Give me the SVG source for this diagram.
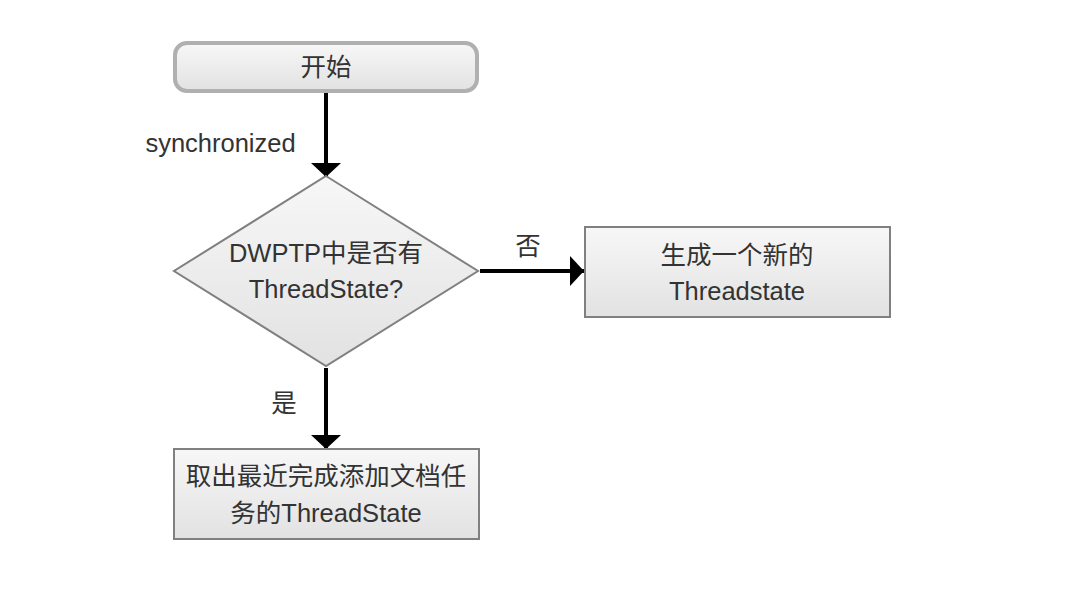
<svg xmlns="http://www.w3.org/2000/svg" width="1076" height="604" viewBox="0 0 1076 604">
<defs>
<linearGradient id="g" x1="0" y1="0" x2="0" y2="1">
<stop offset="0" stop-color="#f7f7f7"/>
<stop offset="1" stop-color="#e2e2e2"/>
</linearGradient>
<marker id="arr" viewBox="0 0 10 10" refX="10" refY="5" markerWidth="3.5" markerHeight="7.5" markerUnits="strokeWidth" orient="auto" preserveAspectRatio="none">
<path d="M0,0 L10,5 L0,10 Z" fill="#000"/>
</marker>
<style>
text{font-family:"Liberation Sans","Noto Sans CJK SC",sans-serif;font-size:25.5px;fill:#333;text-anchor:middle;dominant-baseline:central}
.box{fill:url(#g);stroke:#808080;stroke-width:2}
.con{stroke:#000;stroke-width:4;fill:none;marker-end:url(#arr)}
</style>
</defs>
<rect width="1076" height="604" fill="#fff"/>
<g id="connectors">
<line class="con" x1="326" y1="92" x2="326" y2="177"/>
<line class="con" x1="480" y1="271" x2="584" y2="271"/>
<line class="con" x1="326" y1="368" x2="326" y2="449"/>
<text x="220.5" y="143">synchronized</text>
<text x="528" y="246">否</text>
<text x="284" y="403">是</text>
</g>
<g id="start">
<rect x="175" y="43" width="302" height="48" rx="12" fill="url(#g)" stroke="#b0b0b0" stroke-width="4"/>
<text x="326" y="67">开始</text>
</g>
<g id="decision">
<polygon class="box" points="326,176 478,271 326,366 174,271"/>
<text x="326" y="253">DWPTP中是否有</text>
<text x="326" y="289">ThreadState?</text>
</g>
<g id="create">
<rect class="box" x="585" y="227" width="305" height="90"/>
<text x="737" y="255">生成一个新的</text>
<text x="737" y="291">Threadstate</text>
</g>
<g id="take">
<rect class="box" x="174" y="449" width="305" height="90"/>
<text x="326" y="476">取出最近完成添加文档任</text>
<text x="326" y="513">务的ThreadState</text>
</g>
</svg>
